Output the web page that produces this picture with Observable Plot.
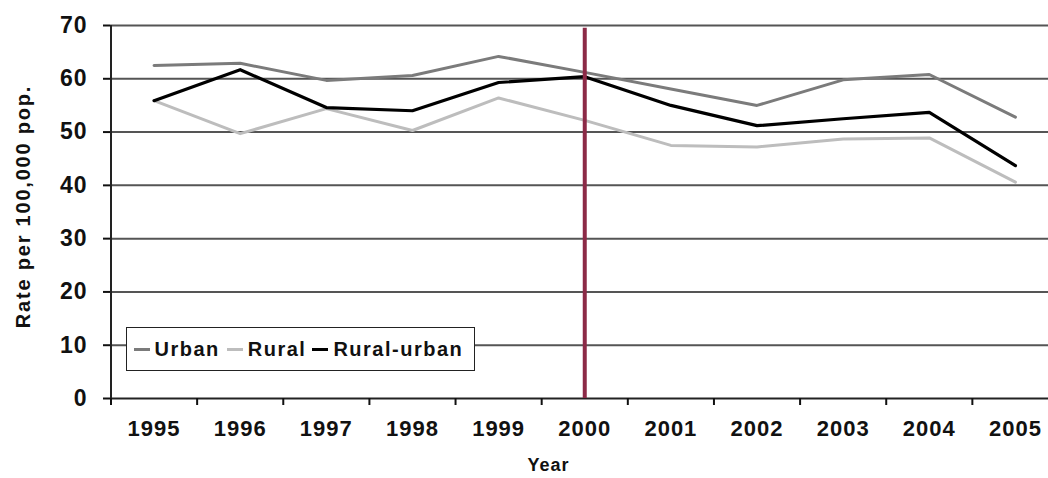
<!DOCTYPE html>
<html>
<head>
<meta charset="utf-8">
<script src="https://cdn.jsdelivr.net/npm/d3@7"></script>
<script src="https://cdn.jsdelivr.net/npm/@observablehq/plot@0.6"></script>
<style>
  html, body { margin: 0; padding: 0; background: #fff; }
  #wrap { position: relative; width: 1048px; height: 478px; overflow: hidden; font-family: "Liberation Sans", Arial, sans-serif; }
  #legend { position: absolute; left: 126px; top: 327px; width: 347px; height: 42px; border: 1.5px solid #222; background: #fff;
    display: flex; align-items: center; font-weight: bold; font-size: 20px; letter-spacing: 1.5px; color: #111; box-sizing: content-box; }
  #legend .sw { display: inline-block; width: 16px; height: 3px; margin-right: 5px; }
  #legend .it { display: flex; align-items: center; }
</style>
</head>
<body>
<div id="wrap"></div>
<script>
const years = [1995, 1996, 1997, 1998, 1999, 2000, 2001, 2002, 2003, 2004, 2005];
const urban = [62.5, 62.9, 59.7, 60.6, 64.2, 61.2, 58.1, 55.0, 59.8, 60.8, 52.8];
const rural = [55.9, 49.7, 54.4, 50.3, 56.4, 52.2, 47.5, 47.2, 48.7, 48.9, 40.6];
const ruralUrban = [55.9, 61.7, 54.6, 54.0, 59.3, 60.4, 55.0, 51.2, 52.5, 53.7, 43.7];
const yTicks = [0, 10, 20, 30, 40, 50, 60, 70];
const markerYear = 2000;
const seriesNames = ["Urban", "Rural", "Rural-urban"];
const seriesColors = ["#7b7b7b", "#bdbdbd", "#000000"];

const boundaries = [years[0] - 0.5, ...years.map(y => y + 0.5)];
const font = "Liberation Sans, Arial, sans-serif";

const chart = Plot.plot({
  width: 1048,
  height: 478,
  marginLeft: 110,
  marginRight: 0,
  marginTop: 25,
  marginBottom: 80,
  style: { fontFamily: font, color: "#111", background: "#fff" },
  x: { type: "linear", domain: [years[0] - 0.5, years[years.length - 1] + 0.5], range: [110.5, 1058] },
  y: { domain: [0, 70] },
  marks: [
    Plot.ruleY(yTicks.filter(d => d > 0), { stroke: "#555", strokeWidth: 2 }),
    Plot.ruleY([0], { stroke: "#222", strokeWidth: 2 }),
    Plot.ruleX([years[0] - 0.5], { stroke: "#222", strokeWidth: 2 }),
    Plot.axisY(yTicks, { tickSize: 7, tickPadding: 16, fontSize: 23, fontWeight: "bold", label: null, strokeWidth: 2 }),
    Plot.axisX(boundaries, { tickSize: 7, tickFormat: () => "", label: null, strokeWidth: 2 }),
    Plot.text(years, { x: d => d, frameAnchor: "bottom", dy: 37, text: d => String(d), fontSize: 22, fontWeight: "bold", fill: "#111" }),
    Plot.line(years, { x: years, y: rural, stroke: seriesColors[1], strokeWidth: 3 }),
    Plot.line(years, { x: years, y: urban, stroke: seriesColors[0], strokeWidth: 3 }),
    Plot.line(years, { x: years, y: ruralUrban, stroke: seriesColors[2], strokeWidth: 3.2 }),
    Plot.ruleX([markerYear], { y1: 0, y2: 69.5, stroke: "#8c2a47", strokeWidth: 4 }),
    Plot.text(["Rate per 100,000 pop."], { frameAnchor: "left", textAnchor: "middle", rotate: -90, dx: -87, dy: -5.5, fontSize: 20, fontWeight: "bold", fill: "#111" }),
    Plot.text(["Year"], { frameAnchor: "bottom", dx: -31, dy: 72, fontSize: 18, fontWeight: "bold", fill: "#111" })
  ]
});

d3.select(chart).selectAll("g[aria-label='y-axis tick label'] text, g[aria-label='text'] text").style("letter-spacing", "1px");
d3.select(chart).selectAll("g[aria-label='text'] text").filter(function () { return this.textContent.startsWith("Rate"); }).style("letter-spacing", "1.8px");

const wrap = document.getElementById("wrap");
wrap.appendChild(chart);

const legend = document.createElement("div");
legend.id = "legend";
const gaps = [6.5, 7, 6];
seriesNames.forEach((name, i) => {
  const it = document.createElement("span");
  it.className = "it";
  it.style.marginLeft = gaps[i] + "px";
  const sw = document.createElement("span");
  sw.className = "sw";
  sw.style.background = seriesColors[i];
  const tx = document.createElement("span");
  tx.textContent = name;
  it.appendChild(sw);
  it.appendChild(tx);
  legend.appendChild(it);
});
wrap.appendChild(legend);
</script>
</body>
</html>
